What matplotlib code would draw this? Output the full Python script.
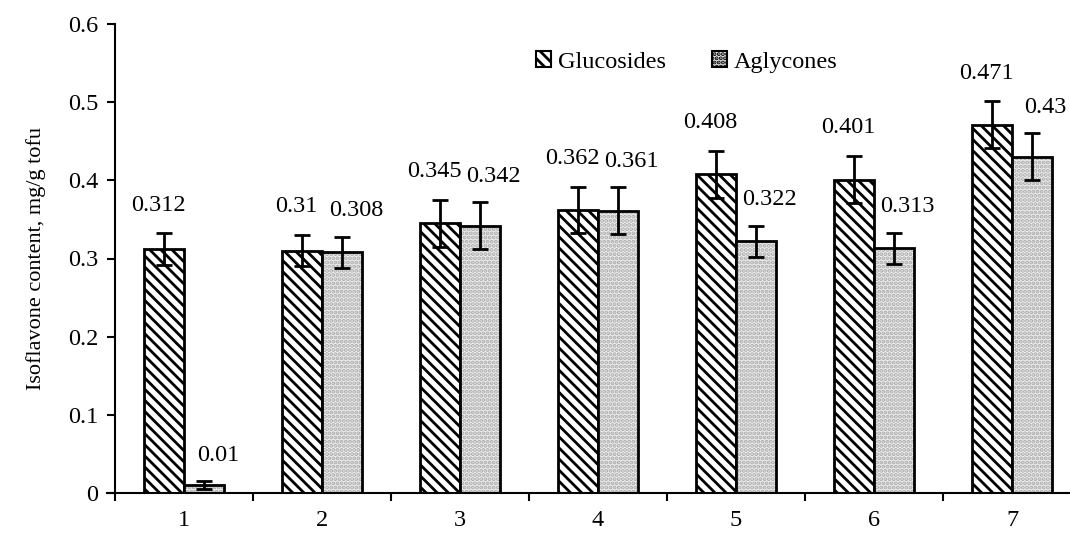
import numpy as np
import matplotlib
matplotlib.use("Agg")
import matplotlib.pyplot as plt
from matplotlib.patches import Patch

# data
samples = ["1", "2", "3", "4", "5", "6", "7"]
glucosides = [0.312, 0.31, 0.345, 0.362, 0.408, 0.401, 0.471]
aglycones = [0.01, 0.308, 0.342, 0.361, 0.322, 0.313, 0.43]
glu_err = [0.02, 0.02, 0.03, 0.03, 0.03, 0.03, 0.03]
agl_err = [0.005, 0.02, 0.03, 0.03, 0.02, 0.02, 0.03]
glu_labels = ["0.312", "0.31", "0.345", "0.362", "0.408", "0.401", "0.471"]
agl_labels = ["0.01", "0.308", "0.342", "0.361", "0.322", "0.313", "0.43"]

plt.rcParams["font.family"] = ["Liberation Serif", "DejaVu Serif"]
plt.rcParams["hatch.linewidth"] = 2.0

fig = plt.figure(figsize=(10.7, 5.38), dpi=100)
ax = fig.add_axes([115 / 1070, 45 / 538, 966 / 1070, 469 / 538])

x = np.arange(1, len(samples) + 1)
w = 0.29
fs = 17.5

# glucosides: black diagonal stripes
ax.bar(x - w / 2, glucosides, w, facecolor="white", edgecolor="black",
       hatch="\\\\\\", linewidth=0)
ax.bar(x - w / 2, glucosides, w, facecolor="none", edgecolor="black", linewidth=2)

# aglycones: grey dotted fill
ax.bar(x + w / 2, aglycones, w, facecolor="#efefef", edgecolor="#a8a8a8",
       hatch="....", linewidth=0)
ax.bar(x + w / 2, aglycones, w, facecolor="none", edgecolor="black", linewidth=2)

ax.errorbar(x - w / 2, glucosides, yerr=glu_err, fmt="none", ecolor="black",
            elinewidth=2, capsize=6, capthick=2)
ax.errorbar(x + w / 2, aglycones, yerr=agl_err, fmt="none", ecolor="black",
            elinewidth=2, capsize=6, capthick=2)

for i in range(len(samples)):
    ax.text(x[i] - w / 2 - 0.04, glucosides[i] + glu_err[i] + 0.036, glu_labels[i],
            ha="center", va="center", fontsize=fs)
    ax.text(x[i] + w / 2 + 0.1, aglycones[i] + agl_err[i] + 0.033, agl_labels[i],
            ha="center", va="center", fontsize=fs, clip_on=False)

ax.set_xlim(0.5, len(samples) + 0.5)
ax.set_ylim(0, 0.6)
ax.set_yticks(np.arange(0, 0.61, 0.1))
ax.set_yticklabels(["0", "0.1", "0.2", "0.3", "0.4", "0.5", "0.6"])
ax.set_xticks(np.arange(0.5, len(samples) + 1, 1.0))
ax.set_xticklabels([])
ax.set_xticks(x, minor=True)
ax.set_xticklabels(samples, minor=True)
ax.tick_params(axis="x", which="minor", length=0, pad=12, labelsize=fs)
ax.tick_params(axis="x", which="major", length=6, width=1.5, direction="out")
ax.tick_params(axis="y", length=6, width=1.5, direction="out", labelsize=fs, pad=6)

for s in ["top", "right"]:
    ax.spines[s].set_visible(False)
for s in ["left", "bottom"]:
    ax.spines[s].set_linewidth(1.5)
ax.spines["bottom"].set_bounds(0.5 - 8 / 138, len(samples) + 0.5)

ax.set_ylabel("Isoflavone content, mg/g tofu", fontsize=16, labelpad=16)

handles = [
    Patch(facecolor="white", edgecolor="black", hatch="\\\\\\", linewidth=1.5),
    Patch(facecolor="#e4e4e4", edgecolor="black", hatch="....", linewidth=1.5),
]
fig.legend(handles, ["Glucosides", "Aglycones"], loc="center left",
           bbox_to_anchor=(524 / 1070, 1 - 62 / 538), ncol=2, frameon=False,
           fontsize=fs, handlelength=0.6, handleheight=0.6,
           handletextpad=0.3, columnspacing=1.9, borderpad=0)

fig.savefig("out.png", dpi=100)
